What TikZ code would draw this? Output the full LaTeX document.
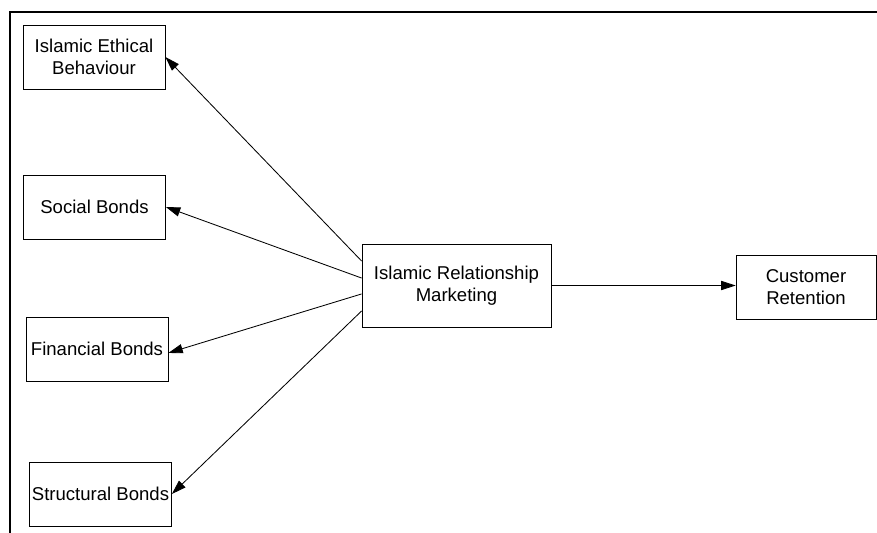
\documentclass[tikz,border=0pt]{standalone}
\usepackage{fontspec}
\setmainfont{Liberation Sans}
\usepackage{tikz}
\usetikzlibrary{arrows.meta}
\tikzset{box/.style={draw,line width=0.5pt,minimum width=3.55cm,minimum height=1.6cm,inner sep=0pt,align=center}}

\begin{document}
\begin{tikzpicture}[x=0.025cm,y=-0.025cm,>={Triangle[length=3.6mm,width=2.3mm]},font=\fontsize{13.2}{16}\selectfont]
\useasboundingbox (0,0) rectangle (877,533);
\draw[line width=1.5pt] (877,12) -- (10,12) -- (10,533);
\node[box] (eth) at (94,57) {Islamic Ethical\\Behaviour};
\node[box] (soc) at (94.5,207) {Social Bonds};
\node[box] (fin) at (97,349) {Financial Bonds};
\node[box] (str) at (100.5,494) {Structural Bonds};
\node[box,minimum width=4.725cm,minimum height=2.075cm] (irm) at (456.5,285.5) {Islamic Relationship\\Marketing};
\node[box,minimum width=3.5cm] (cr) at (806,287) {Customer\\Retention};
\draw[->,line width=0.6pt] ([yshift=17.4pt]irm.west) -- (eth.east);
\draw[->,line width=0.6pt] ([yshift=5.3pt]irm.west) -- (soc.east);
\draw[->,line width=0.6pt] ([yshift=-6pt]irm.west) -- ([yshift=-2.8pt]fin.east);
\draw[->,line width=0.6pt] ([yshift=-18.1pt]irm.west) -- (str.east);
\draw[->,line width=0.6pt] (irm.east) -- (irm.east -| cr.west);
\end{tikzpicture}
\end{document}
